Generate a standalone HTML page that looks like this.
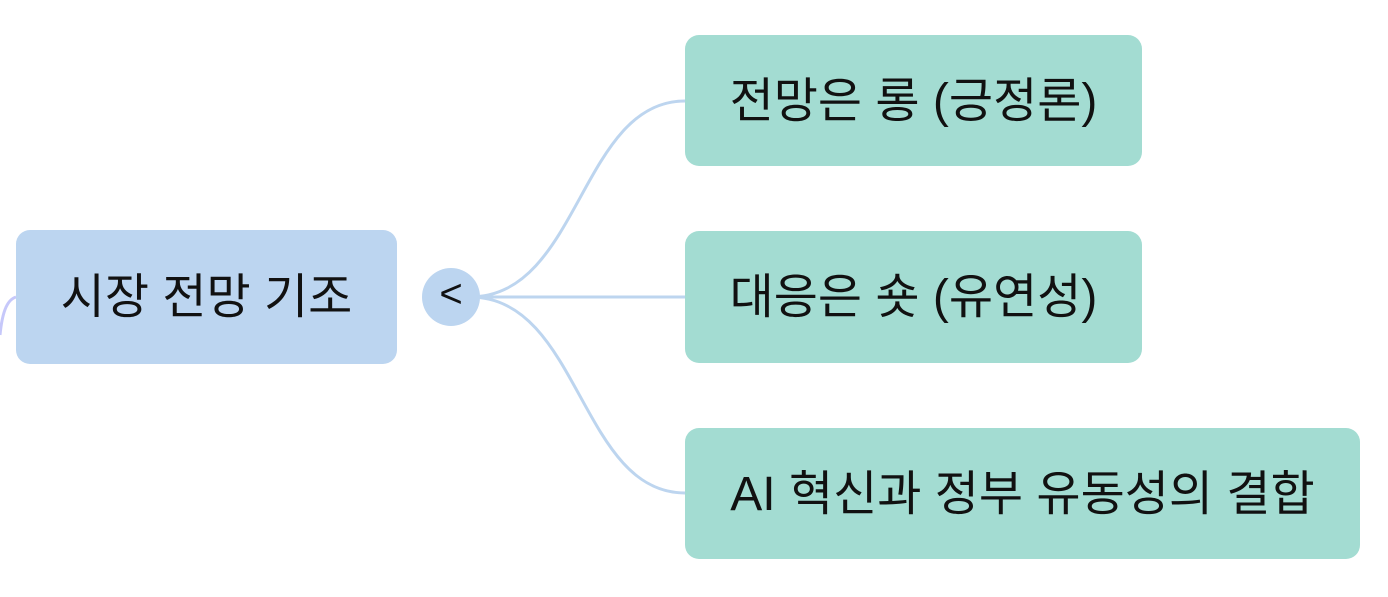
<!DOCTYPE html>
<html><head><meta charset="utf-8"><style>
body{margin:0;width:1388px;height:597px;background:#fff;overflow:hidden;position:relative;font-family:"Liberation Sans","Noto Sans CJK KR",sans-serif}
.b{position:absolute;border-radius:14px;display:flex;align-items:center;justify-content:center;font-size:48px;color:#111;box-sizing:border-box;padding-bottom:10px}
.l{background:#bcd5f0}
.r{background:#a3dcd2}
</style></head><body>
<svg width="1388" height="597" style="position:absolute;left:0;top:0">
<path d="M16 297 C6 300 2 315 0 335" stroke="#c6c8fa" stroke-width="3" fill="none"/>
<g stroke="#bdd5ef" stroke-width="3" fill="none">
<path d="M470 297 C580 297 580 101 685 101"/>
<path d="M470 297 L685 297"/>
<path d="M470 297 C580 297 580 493 685 493"/>
</g>
<circle cx="451" cy="297" r="29" fill="#bcd5f0"/>
<text x="451" y="307" font-size="40" text-anchor="middle" fill="#111" font-family="Liberation Sans, sans-serif">&lt;</text>
</svg>
<div class="b l" style="left:16px;top:230px;width:381px;height:134px">시장 전망 기조</div>
<div class="b r" style="left:685px;top:35px;width:457px;height:131px">전망은 롱 (긍정론)</div>
<div class="b r" style="left:685px;top:231px;width:457px;height:132px">대응은 숏 (유연성)</div>
<div class="b r" style="left:685px;top:428px;width:675px;height:131px">AI 혁신과 정부 유동성의 결합</div>
</body></html>
